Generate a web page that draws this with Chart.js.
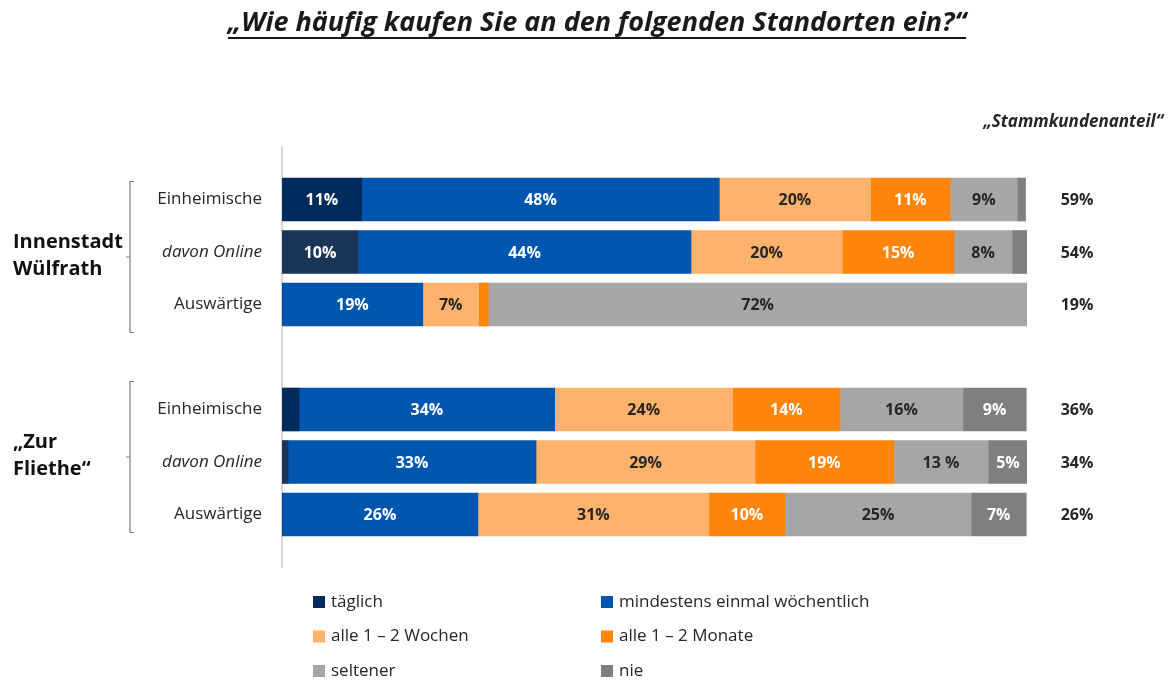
<!DOCTYPE html>
<html><head><meta charset="utf-8">
<script src="https://cdn.jsdelivr.net/npm/chart.js@4.4.1/dist/chart.umd.min.js"></script>
<style>html,body{margin:0;padding:0;background:#fff;}#wrap{width:1168px;height:680px;position:relative;}canvas{display:block;}</style>
</head><body><div id="wrap"><canvas id="c" width="1168" height="680" style="width:1168px;height:680px"></canvas></div>
<script>
const titleText = '„Wie häufig kaufen Sie an den folgenden Standorten ein?“';
const rightHeader = '„Stammkundenanteil“';
const rowLabels = ['', 'Einheimische', 'davon Online', 'Auswärtige', '', 'Einheimische', 'davon Online', 'Auswärtige', ''];
const seriesNames = ['täglich', 'mindestens einmal wöchentlich', 'alle 1 – 2 Wochen', 'alle 1 – 2 Monate', 'seltener', 'nie'];
const taeglich     = [null, 10.7, 10.2, 0,    null, 2.3,  0.8,  0,    null];
const woechentlich = [null, 48.0, 44.7, 18.9, null, 34.3, 33.3, 26.3, null];
const wochen       = [null, 20.3, 20.3, 7.5,  null, 23.9, 29.4, 31.0, null];
const monate       = [null, 10.7, 15.0, 1.3,  null, 14.4, 18.6, 10.2, null];
const seltener     = [null, 9.0,  7.8,  72.3, null, 16.5, 12.7, 25.0, null];
const nie          = [null, 1.1,  2.2,  0,    null, 8.5,  5.3,  7.4,  null];
const taeglichLbl     = ['', '11%', '10%', '', '', '', '', '', ''];
const woechentlichLbl = ['', '48%', '44%', '19%', '', '34%', '33%', '26%', ''];
const wochenLbl       = ['', '20%', '20%', '7%', '', '24%', '29%', '31%', ''];
const monateLbl       = ['', '11%', '15%', '', '', '14%', '19%', '10%', ''];
const seltenerLbl     = ['', '9%', '8%', '72%', '', '16%', '13 %', '25%', ''];
const nieLbl          = ['', '', '', '', '', '9%', '5%', '7%', ''];
const stammkunden     = ['', '59%', '54%', '19%', '', '36%', '34%', '26%', ''];
const groupNames = [['Innenstadt', 'Wülfrath'], ['„Zur', 'Fliethe“']];
const groupRows = [[1, 3], [5, 7]];
const groupShift = [5, -5];

const colors = ['#002B5C', '#0056AE', '#FFB26B', '#FF850D', '#A6A6A6', '#7F7F7F'];
const labelColors = ['#ffffff', '#ffffff', '#262626', '#ffffff', '#262626', '#ffffff'];
const values = [taeglich, woechentlich, wochen, monate, seltener, nie];
const labels = [taeglichLbl, woechentlichLbl, wochenLbl, monateLbl, seltenerLbl, nieLbl];

const datasets = values.map((v, i) => ({
  label: seriesNames[i],
  data: v,
  backgroundColor: i === 0 ? rowLabels.map((r) => r === 'davon Online' ? '#1B3558' : colors[0]) : colors[i],
  borderWidth: 0,
  barThickness: 43
}));

const overlay = {
  id: 'overlay',
  afterDatasetsDraw(chart) {
    const ctx = chart.ctx;
    const ys = chart.scales.y;
    ctx.save();
    ctx.font = 'bold 16px "Open Sans"';
    ctx.textAlign = 'center';
    ctx.textBaseline = 'middle';
    chart.data.datasets.forEach((ds, di) => {
      const meta = chart.getDatasetMeta(di);
      meta.data.forEach((el, i) => {
        const t = labels[di][i];
        if (!t) return;
        ctx.fillStyle = labelColors[di];
        ctx.fillText(t, (el.x + el.base) / 2, el.y + 1);
      });
    });
    ctx.fillStyle = '#262626';
    ctx.font = 'bold 16px "Open Sans"';
    stammkunden.forEach((t, i) => {
      if (!t) return;
      ctx.fillText(t, 1077, ys.getPixelForValue(i) + 1);
    });
    ctx.font = 'italic bold 17px "Open Sans"';
    ctx.textAlign = 'right';
    ctx.fillText(rightHeader, 1163, 122);
    ctx.font = 'italic bold 27px "Open Sans"';
    ctx.textAlign = 'center';
    ctx.textBaseline = 'alphabetic';
    ctx.fillStyle = '#1a1a1a';
    ctx.fillText(titleText, 597, 31);
    const w = ctx.measureText(titleText).width;
    ctx.fillRect(597 - w / 2, 37, w, 2);
    ctx.textAlign = 'left';
    ctx.textBaseline = 'middle';
    ctx.font = 'bold 20px "Open Sans"';
    groupRows.forEach((g, gi) => {
      const y0 = ys.getPixelForValue(g[0]);
      const y1 = ys.getPixelForValue(g[1]);
      const s = groupShift[gi];
      const ym = (y0 + y1) / 2 + s;
      ctx.fillStyle = '#111';
      ctx.fillText(groupNames[gi][0], 13, ym - 15);
      ctx.fillText(groupNames[gi][1], 13, ym + 12);
      ctx.strokeStyle = '#7f7f7f';
      ctx.lineWidth = 1.2;
      const top = y0 - 23 + s, bot = y1 + 23 + s;
      ctx.beginPath();
      ctx.moveTo(134, top); ctx.lineTo(130, top); ctx.lineTo(130, bot); ctx.lineTo(134, bot);
      ctx.moveTo(130, ym); ctx.lineTo(126, ym);
      ctx.stroke();
    });
    ctx.font = '17px "Open Sans"';
    chart.data.datasets.forEach((ds, i) => {
      const col = i % 2, row = Math.floor(i / 2);
      const x = col === 0 ? 313 : 601;
      const y = 602 + row * 34.5;
      ctx.fillStyle = colors[i];
      ctx.fillRect(x, y - 6, 12, 12);
      ctx.fillStyle = '#262626';
      ctx.fillText(ds.label, x + 18, y);
    });
    ctx.restore();
  }
};

new Chart(document.getElementById('c'), {
  type: 'bar',
  data: { labels: rowLabels, datasets },
  options: {
    indexAxis: 'y',
    responsive: false,
    animation: false,
    devicePixelRatio: 1,
    layout: { padding: { top: 147, bottom: 113, right: 141, left: 0 } },
    plugins: { legend: { display: false }, tooltip: { enabled: false }, title: { display: false } },
    scales: {
      x: { display: false, stacked: true, min: 0, max: 100 },
      y: {
        stacked: true,
        offset: false,
        afterFit(scale) { scale.width = 282; },
        grid: { display: false, drawTicks: false },
        border: { display: true, color: '#d9d9d9', width: 2 },
        ticks: {
          autoSkip: false,
          padding: 20,
          color: '#262626',
          font: (c) => ({ family: 'Open Sans', size: 17, style: (c.tick && c.tick.label === 'davon Online') ? 'italic' : 'normal' })
        }
      }
    }
  },
  plugins: [overlay]
});
</script>
</body></html>
